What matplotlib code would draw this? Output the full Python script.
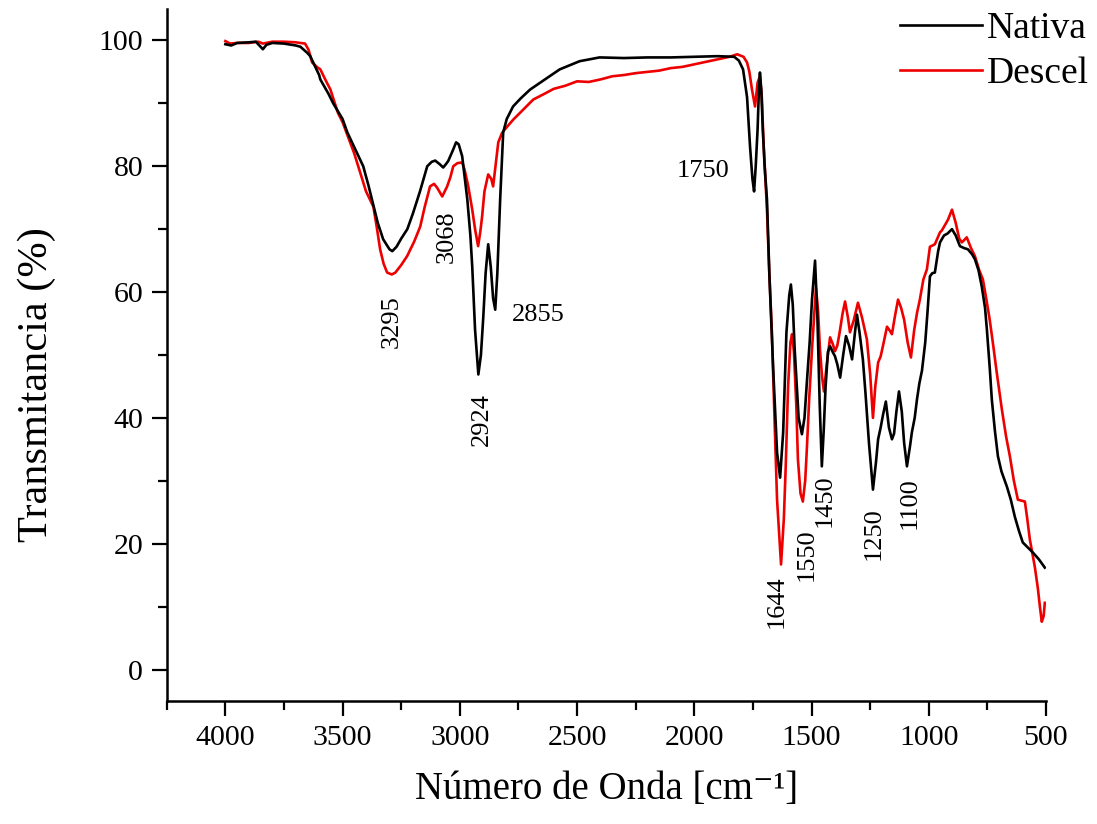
import matplotlib
matplotlib.use("Agg")
import matplotlib.pyplot as plt
from matplotlib.ticker import MultipleLocator

plt.rcParams['font.family'] = ['Liberation Serif', 'DejaVu Serif']
plt.rcParams['mathtext.fontset'] = 'custom'
plt.rcParams['mathtext.rm'] = 'Liberation Serif'

# ---------------- data ----------------
nativa_wn = [4000, 3975, 3950, 3900, 3870, 3850, 3840, 3825, 3800, 3750, 3700, 3680, 3650, 3638,
             3600, 3595, 3560, 3540, 3500, 3480, 3450, 3412, 3390, 3370, 3350, 3327, 3300, 3288,
             3270, 3250, 3224, 3200, 3170, 3139, 3120, 3105, 3085, 3071, 3060, 3050, 3030, 3016,
             3005, 2990, 2980, 2968, 2955, 2947, 2935, 2921, 2910, 2900, 2890, 2879, 2868, 2858,
             2849, 2840, 2828, 2815, 2800, 2773, 2740, 2700, 2637, 2574, 2489, 2404, 2300, 2200,
             2100, 2000, 1900, 1830, 1810, 1792, 1775, 1762, 1752, 1745, 1738, 1730, 1725, 1720,
             1714, 1708, 1700, 1690, 1680, 1664, 1647, 1634, 1621, 1607, 1595, 1588, 1580, 1572,
             1555, 1541, 1530, 1520, 1508, 1498, 1485, 1475, 1465, 1456, 1448, 1440, 1430, 1421,
             1410, 1400, 1390, 1378, 1365, 1353, 1340, 1327, 1315, 1306, 1295, 1281, 1270, 1255,
             1238, 1225, 1216, 1205, 1195, 1183, 1170, 1157, 1148, 1138, 1127, 1115, 1105, 1093,
             1080, 1072, 1060, 1050, 1040, 1029, 1015, 1005, 995, 985, 974, 960, 952, 935, 920,
             901, 885, 867, 850, 833, 815, 803, 788, 774, 760, 752, 740, 731, 718, 705, 690, 667,
             650, 633, 615, 599, 575, 556, 530, 505]
nativa_t = [99.4, 99.2, 99.6, 99.7, 99.8, 99.0, 98.6, 99.3, 99.6, 99.5, 99.2, 99.0, 98.0, 97.5,
            94.5, 93.8, 91.5, 90.0, 87.5, 85.4, 83.0, 80.0, 77.0, 74.0, 71.0, 68.4, 66.8, 66.5,
            67.2, 68.5, 70.0, 72.5, 76.0, 80.0, 80.7, 80.9, 80.3, 79.8, 80.3, 80.8, 82.5, 83.8,
            83.5, 81.6, 78.5, 74.7, 69.0, 64.0, 54.0, 46.9, 50.0, 56.0, 63.0, 67.6, 64.0, 59.0,
            57.2, 63.0, 74.7, 85.4, 87.5, 89.5, 90.8, 92.2, 93.8, 95.4, 96.7, 97.3, 97.2, 97.3,
            97.3, 97.4, 97.5, 97.4, 96.8, 95.4, 91.0, 83.0, 78.0, 76.0, 80.0, 85.9, 91.5, 94.9,
            92.0, 86.0, 80.0, 74.7, 63.0, 48.2, 34.5, 30.5, 37.7, 53.6, 59.5, 61.2, 58.0, 51.0,
            40.0, 37.4, 40.0, 45.6, 52.0, 58.8, 65.0, 56.0, 42.0, 32.3, 38.0, 45.0, 50.5, 51.4,
            50.5, 49.8, 48.5, 46.4, 50.0, 53.0, 51.5, 49.3, 53.5, 56.4, 53.5, 49.3, 44.0, 36.0,
            28.6, 33.0, 36.6, 38.5, 40.5, 42.6, 38.5, 36.6, 37.5, 41.0, 44.2, 41.0, 36.0, 32.3,
            35.5, 37.7, 40.0, 43.0, 45.5, 47.5, 52.0, 57.0, 62.5, 63.0, 63.1, 66.5, 67.9, 69.0,
            69.3, 70.0, 69.0, 67.3, 67.0, 66.8, 66.0, 65.2, 63.5, 60.9, 57.5, 54.0, 48.0, 42.9,
            38.0, 33.9, 31.5, 29.1, 27.0, 24.3, 22.0, 20.2, 19.3, 18.6, 17.5, 16.2]

descel_wn = [4000, 3980, 3950, 3900, 3860, 3840, 3800, 3750, 3700, 3660, 3645, 3630, 3610, 3595,
             3570, 3552, 3520, 3500, 3480, 3450, 3425, 3400, 3369, 3355, 3340, 3325, 3310, 3290,
             3275, 3250, 3225, 3195, 3169, 3150, 3127, 3110, 3097, 3075, 3054, 3040, 3028, 3010,
             2990, 2980, 2965, 2947, 2935, 2922, 2913, 2905, 2895, 2879, 2866, 2858, 2848, 2836,
             2820, 2798, 2770, 2743, 2687, 2640, 2600, 2550, 2500, 2450, 2400, 2350, 2300, 2250,
             2200, 2150, 2100, 2050, 2000, 1950, 1900, 1850, 1817, 1790, 1775, 1765, 1754, 1741,
             1730, 1720, 1712, 1705, 1690, 1680, 1669, 1658, 1647, 1630, 1618, 1610, 1600, 1590,
             1583, 1575, 1565, 1558, 1547, 1537, 1527, 1520, 1510, 1498, 1481, 1472, 1464, 1455,
             1447, 1435, 1421, 1410, 1400, 1390, 1380, 1368, 1357, 1345, 1336, 1320, 1302, 1285,
             1264, 1250, 1238, 1228, 1216, 1205, 1195, 1178, 1165, 1157, 1145, 1131, 1118, 1105,
             1090, 1076, 1062, 1050, 1038, 1023, 1008, 995, 974, 952, 944, 918, 901, 885, 870,
             859, 848, 838, 820, 803, 785, 769, 755, 740, 725, 710, 688, 670, 654, 637, 620, 600,
             590, 580, 569, 548, 535, 526, 518, 510, 505]
descel_t = [99.9, 99.5, 99.6, 99.6, 99.8, 99.5, 99.8, 99.8, 99.7, 99.5, 98.5, 96.5, 95.8, 95.4,
            93.5, 92.2, 88.5, 87.0, 85.0, 82.0, 79.0, 76.0, 73.6, 70.5, 66.8, 64.5, 63.1, 62.8,
            63.1, 64.3, 65.7, 68.0, 70.4, 73.5, 76.8, 77.2, 76.6, 75.2, 76.8, 78.3, 80.0, 80.5,
            80.6, 79.5, 77.0, 73.1, 70.0, 67.3, 69.5, 72.0, 76.0, 78.7, 78.0, 76.8, 80.0, 83.8,
            85.3, 86.3, 87.5, 88.5, 90.6, 91.5, 92.3, 92.8, 93.5, 93.4, 93.8, 94.3, 94.5, 94.8,
            95.0, 95.2, 95.6, 95.8, 96.2, 96.6, 97.0, 97.4, 97.8, 97.4, 96.5, 95.0, 92.2, 89.5,
            93.3, 94.3, 91.0, 84.0, 73.1, 63.0, 53.6, 40.0, 27.0, 16.7, 24.0, 32.3, 45.0, 52.0,
            53.3, 50.5, 42.0, 33.4, 28.0, 26.7, 30.0, 35.0, 43.0, 50.9, 60.7, 57.0, 50.9, 46.5,
            44.2, 48.5, 52.8, 51.8, 50.6, 51.5, 53.6, 56.5, 58.5, 56.0, 53.6, 55.5, 58.3, 56.0,
            52.5, 47.0, 40.0, 45.0, 48.8, 49.8, 51.5, 54.5, 53.8, 53.3, 56.0, 58.8, 57.5, 55.6,
            52.0, 49.6, 54.0, 56.7, 58.8, 62.0, 63.6, 67.2, 67.6, 69.5, 69.8, 71.5, 73.1, 71.0,
            68.5, 67.9, 68.3, 68.7, 67.0, 65.7, 63.5, 62.0, 59.0, 55.6, 51.5, 47.2, 41.3, 37.0,
            33.9, 30.0, 27.0, 26.8, 26.7, 24.0, 20.7, 16.4, 13.0, 10.0, 7.6, 8.5, 10.6]

series_labels = ["Nativa", "Descel"]
series_colors = ["black", "#ee0000"]

peak_labels = ["3295", "3068", "2924", "2855", "1750", "1644", "1550", "1450", "1250", "1100"]
peak_pos = [(3292, 55.3), (3054, 68.8), (2905, 39.7), (2666, 56.4), (1963, 79.2),
            (1647, 10.8), (1519, 18.3), (1443, 26.9), (1234, 21.6), (1080, 26.4)]
peak_rot = [90, 90, 90, 0, 0, 90, 90, 90, 90, 90]

x_ticks = [4000, 3500, 3000, 2500, 2000, 1500, 1000, 500]
y_ticks = [0, 20, 40, 60, 80, 100]

# ---------------- figure ----------------
fig = plt.figure(figsize=(10.97, 8.24), dpi=100)
ax = fig.add_axes([0.152, 0.1493, 0.8015, 0.8398])

ax.plot(nativa_wn, nativa_t, color=series_colors[0], lw=1.9, label=series_labels[0], zorder=3)
ax.plot(descel_wn, descel_t, color=series_colors[1], lw=1.9, label=series_labels[1], zorder=2)

ax.set_xlim(4250, 500)
ax.set_ylim(-5, 105)
ax.set_xticks(x_ticks)
ax.set_yticks(y_ticks)
ax.xaxis.set_minor_locator(MultipleLocator(250))
ax.yaxis.set_minor_locator(MultipleLocator(10))

for s in ["top", "right"]:
    ax.spines[s].set_visible(False)
for s in ["left", "bottom"]:
    ax.spines[s].set_linewidth(1.8)

ax.tick_params(which="major", direction="out", length=11, width=1.6, labelsize=21.5, pad=6)
ax.tick_params(which="minor", direction="out", length=6.5, width=1.6)

ax.set_xlabel("Número de Onda [cm\u207b\u00b9]", fontsize=28, labelpad=15)
ax.set_ylabel("Transmitancia (%)", fontsize=30.5)
ax.yaxis.set_label_coords((56 - 166.7) / 879.3, (701 - 385) / 692.0)

for lab, (xx, yy), rot in zip(peak_labels, peak_pos, peak_rot):
    ax.text(xx, yy, lab, rotation=rot, ha="center", va="center", fontsize=19)

leg = ax.legend(loc="upper left", bbox_to_anchor=(900 / 1097, 1 - 12 / 824),
                bbox_transform=fig.transFigure, frameon=False, fontsize=27,
                handlelength=2.19, handletextpad=0.13, labelspacing=0.27, borderpad=0,
                borderaxespad=0)
for line in leg.get_lines():
    line.set_linewidth(1.9)

fig.savefig("out.png", dpi=100)
